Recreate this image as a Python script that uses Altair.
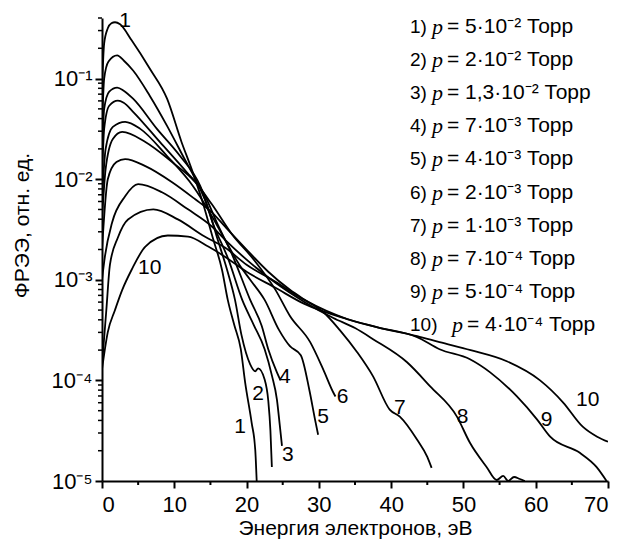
import altair as alt
import pandas as pd

# ---------------- data (x in eV, e = log10 of EEDF) ----------------
curve_names = ["1", "2", "3", "4", "5", "6", "7", "8", "9", "10"]

c1_x = [0, 0.3, 0.8, 1.3, 1.8, 2.5, 4.1, 6.6, 9.0, 11.0, 12.4, 13.8, 15.4, 16.6, 17.4, 18.3, 19.2, 19.8, 20.7, 21.2, 21.4]
c1_e = [-1.1, -0.65, -0.5, -0.45, -0.44, -0.46, -0.62, -0.9, -1.2, -1.63, -1.9, -2.2, -2.6, -2.9, -3.2, -3.45, -3.69, -4.02, -4.42, -4.69, -5.0]

c2_x = [0, 0.3, 0.9, 2.1, 3.0, 4.3, 6.6, 9.0, 11.2, 13.6, 14.5, 16.0, 17.3, 18.4, 19.3, 20.5, 21.2, 21.6, 22.5, 23.0, 23.3, 23.5]
c2_e = [-1.5, -1.0, -0.83, -0.77, -0.82, -0.92, -1.17, -1.47, -1.77, -2.1, -2.25, -2.6, -2.9, -3.2, -3.55, -3.84, -3.91, -3.88, -3.99, -4.2, -4.5, -4.86]

c3_x = [0, 0.3, 1.0, 2.1, 3.0, 4.3, 7.6, 10.8, 13.6, 15.4, 17.5, 19.4, 21.0, 22.5, 23.5, 24.2, 24.6, 24.9]
c3_e = [-1.8, -1.3, -1.13, -1.09, -1.12, -1.2, -1.5, -1.77, -2.07, -2.45, -2.8, -3.2, -3.45, -3.69, -3.95, -4.19, -4.45, -4.65]

c4_x = [0, 0.3, 1.0, 2.2, 3.0, 4.3, 8.0, 11.7, 14.0, 16.0, 18.0, 20.5, 22.1, 23.0, 24.2, 24.7]
c4_e = [-2.0, -1.5, -1.27, -1.22, -1.24, -1.33, -1.63, -1.93, -2.13, -2.45, -2.75, -3.2, -3.46, -3.69, -3.92, -4.0]

c5_x = [0, 0.5, 1.5, 3.2, 5.3, 9.0, 12.6, 14.9, 17.0, 19.0, 20.5, 22.5, 24.5, 26.0, 27.5, 28.7, 29.5, 29.9]
c5_e = [-2.2, -1.7, -1.48, -1.43, -1.5, -1.77, -2.07, -2.33, -2.6, -2.85, -3.0, -3.2, -3.5, -3.66, -3.75, -4.1, -4.4, -4.54]

c6_x = [0, 0.5, 1.5, 2.8, 6.0, 9.7, 12.9, 15.2, 18.0, 21.0, 24.0, 26.0, 28.8, 30.6, 32.0, 32.3]
c6_e = [-2.4, -1.9, -1.6, -1.53, -1.63, -1.83, -2.03, -2.25, -2.55, -2.8, -3.1, -3.36, -3.62, -3.89, -4.12, -4.16]

c7_x = [0, 0.8, 2.0, 3.2, 6.0, 9.7, 12.9, 15.2, 17.0, 20.0, 23.0, 26.0, 28.5, 30.6, 32.9, 35.3, 37.5, 39.8, 41.2, 43.6, 45.0, 45.6]
c7_e = [-2.7, -2.0, -1.83, -1.8, -1.87, -2.03, -2.2, -2.33, -2.47, -2.7, -2.92, -3.1, -3.22, -3.32, -3.5, -3.72, -3.96, -4.29, -4.36, -4.59, -4.76, -4.87]

c8_x = [0, 0.4, 1.4, 3.2, 5.0, 8.3, 11.9, 15.2, 17.0, 20.0, 24.0, 28.0, 32.0, 35.0, 37.5, 42.2, 45.4, 49.1, 50.9, 53.2, 54.6, 55.5, 56.2, 57.0, 57.8, 58.5]
c8_e = [-3.0, -2.77, -2.43, -2.17, -2.05, -2.13, -2.3, -2.47, -2.6, -2.8, -3.03, -3.22, -3.38, -3.48, -3.59, -3.82, -4.06, -4.36, -4.62, -4.86, -4.99, -4.95, -5.0, -4.96, -4.98, -5.0]

c9_x = [0, 0.6, 1.1, 2.2, 3.6, 7.1, 10.5, 14.2, 17.0, 20.0, 24.0, 28.0, 33.9, 38.0, 43.6, 46.7, 50.9, 53.7, 57.4, 60.2, 62.0, 66.1, 68.4, 69.8]
c9_e = [-3.85, -3.3, -2.85, -2.58, -2.4, -2.3, -2.4, -2.57, -2.68, -2.85, -3.02, -3.2, -3.39, -3.47, -3.57, -3.69, -3.79, -3.92, -4.16, -4.39, -4.56, -4.72, -4.86, -5.0]

c10_x = [0, 0.8, 1.8, 2.8, 4.1, 6.0, 9.1, 11.9, 14.7, 17.0, 20.0, 24.0, 28.0, 33.9, 38.0, 43.6, 46.7, 51.0, 56.0, 60.6, 63.8, 66.5, 68.5, 70.0]
c10_e = [-3.89, -3.52, -3.3, -3.1, -2.9, -2.67, -2.56, -2.57, -2.67, -2.77, -2.92, -3.08, -3.24, -3.39, -3.47, -3.56, -3.62, -3.7, -3.81, -4.0, -4.22, -4.46, -4.56, -4.61]

curves_x = [c1_x, c2_x, c3_x, c4_x, c5_x, c6_x, c7_x, c8_x, c9_x, c10_x]
curves_e = [c1_e, c2_e, c3_e, c4_e, c5_e, c6_e, c7_e, c8_e, c9_e, c10_e]

# curve number labels (anchored in data space)
label_text = ["1", "10", "1", "2", "3", "4", "5", "6", "7", "8", "9", "10"]
label_x = [3.2, 6.6, 19.1, 21.6, 25.7, 25.3, 30.6, 33.3, 41.2, 49.9, 61.5, 67.2]
label_e = [-0.43, -2.88, -4.46, -4.14, -4.74, -3.97, -4.36, -4.17, -4.27, -4.36, -4.39, -4.19]

# legend texts
legend_num = ["1)", "2)", "3)", "4)", "5)", "6)", "7)", "8)", "9)", "10)"]
legend_val = ["= 5·10⁻² Торр", "= 2·10⁻² Торр", "= 1,3·10⁻² Торр", "= 7·10⁻³ Торр",
              "= 4·10⁻³ Торр", "= 2·10⁻³ Торр", "= 1·10⁻³ Торр", "= 7·10⁻⁴ Торр",
              "= 5·10⁻⁴ Торр", "= 4·10⁻⁴ Торр"]

# axis ticks
x_major = [0, 10, 20, 30, 40, 50, 60, 70]
x_minor = [5, 15, 25, 35, 45, 55, 65]
y_major = [1e-5, 1e-4, 1e-3, 1e-2, 1e-1]
y_minor = [m * d for d in [1e-5, 1e-4, 1e-3, 1e-2] for m in range(2, 10)] + [0.2, 0.3, 0.4]

# ---------------- tables ----------------
rows = []
for name, xs, es in zip(curve_names, curves_x, curves_e):
    for i, (x, e) in enumerate(zip(xs, es)):
        rows.append({"curve": name, "order": i, "E": x, "f": 10 ** e})
df = pd.DataFrame(rows)

df_lab = pd.DataFrame({"t": label_text, "E": label_x, "f": [10 ** e for e in label_e]})
df_leg = pd.DataFrame({"row": list(range(len(legend_num))), "num": legend_num, "val": legend_val,
                       "p": ["p"] * len(legend_num)})
df_xmin = pd.DataFrame({"E": x_minor})
df_ymin = pd.DataFrame({"f": y_minor})

FONT = "Liberation Sans"
FS = 21
W, H = 506, 463

xscale = alt.Scale(domain=[0, 70], nice=False, zero=False)
yscale = alt.Scale(type="log", domain=[1e-5, 0.4], nice=False)

y_label_expr = ("'10' + (datum.value < 5e-5 ? '⁻⁵' : datum.value < 5e-4 ? '⁻⁴' : "
                "datum.value < 5e-3 ? '⁻³' : datum.value < 5e-2 ? '⁻²' : '⁻¹')")

lines = alt.Chart(df).mark_line(color="black", strokeWidth=1.8, interpolate="monotone", clip=True).encode(
    x=alt.X("E:Q", scale=xscale,
            axis=alt.Axis(values=x_major, title="Энергия электронов, эВ", format="d",
                          titleX=253, titleY=47, titleAlign="center", titleBaseline="middle",
                          labelPadding=6, labelFontSize=22)),
    y=alt.Y("f:Q", scale=yscale,
            axis=alt.Axis(values=y_major, labelExpr=y_label_expr, title="ФРЭЭ, отн. ед.",
                          titleX=-80, titleY=207, titleAngle=270, titleAlign="center",
                          titleBaseline="middle", labelPadding=3, labelFontSize=22)),
    detail="curve:N",
    order="order:Q",
)

labels = alt.Chart(df_lab).mark_text(font=FONT, fontSize=FS, color="black").encode(
    x=alt.X("E:Q", scale=xscale), y=alt.Y("f:Q", scale=yscale), text="t:N")

xminor = alt.Chart(df_xmin).mark_rule(color="black", strokeWidth=2).encode(
    x=alt.X("E:Q", scale=xscale), y=alt.value(H), y2=alt.value(H + 4))

yminor = alt.Chart(df_ymin).mark_rule(color="black", strokeWidth=1.5).encode(
    y=alt.Y("f:Q", scale=yscale), x=alt.value(-4), x2=alt.value(0))

main = alt.layer(lines, labels, xminor, yminor)

leg_y = alt.Y("row:Q", scale=alt.Scale(domain=[0, 9], range=[9, 307]), axis=None)

leg_num = alt.Chart(df_leg).mark_text(font=FONT, fontSize=19, align="left", baseline="middle",
                                      color="black").encode(x=alt.value(308), y=leg_y, text="num:N")
leg_p1 = alt.Chart(df_leg).transform_filter("datum.row < 9").mark_text(
    font="Liberation Serif", fontStyle="italic", fontSize=22, align="left", baseline="middle",
    color="black").encode(x=alt.value(330), y=leg_y, text="p:N")
leg_p2 = alt.Chart(df_leg).transform_filter("datum.row >= 9").mark_text(
    font="Liberation Serif", fontStyle="italic", fontSize=22, align="left", baseline="middle",
    color="black").encode(x=alt.value(350), y=leg_y, text="p:N")
leg_v1 = alt.Chart(df_leg).transform_filter("datum.row < 9").mark_text(
    font=FONT, fontSize=FS, align="left", baseline="middle", color="black").encode(
    x=alt.value(345), y=leg_y, text="val:N")
leg_v2 = alt.Chart(df_leg).transform_filter("datum.row >= 9").mark_text(
    font=FONT, fontSize=FS, align="left", baseline="middle", color="black").encode(
    x=alt.value(365), y=leg_y, text="val:N")

legend = alt.layer(leg_num, leg_p1, leg_p2, leg_v1, leg_v2)

chart = alt.layer(main, legend).resolve_scale(y="independent").properties(
    width=W, height=H,
    autosize=alt.AutoSizeParams(type="none"),
    padding={"left": 102, "top": 18, "right": 23, "bottom": 67},
    background="white",
).configure_view(stroke=None).configure_axis(
    grid=False, domainColor="black", domainWidth=2, tickColor="black", tickWidth=2, tickSize=7,
    labelFont=FONT, labelFontSize=FS, labelColor="black", titleFont=FONT, titleFontSize=FS,
    titleFontWeight="normal", titleColor="black",
)

chart.save("out.html", embed_options={"renderer": "svg", "actions": False})
